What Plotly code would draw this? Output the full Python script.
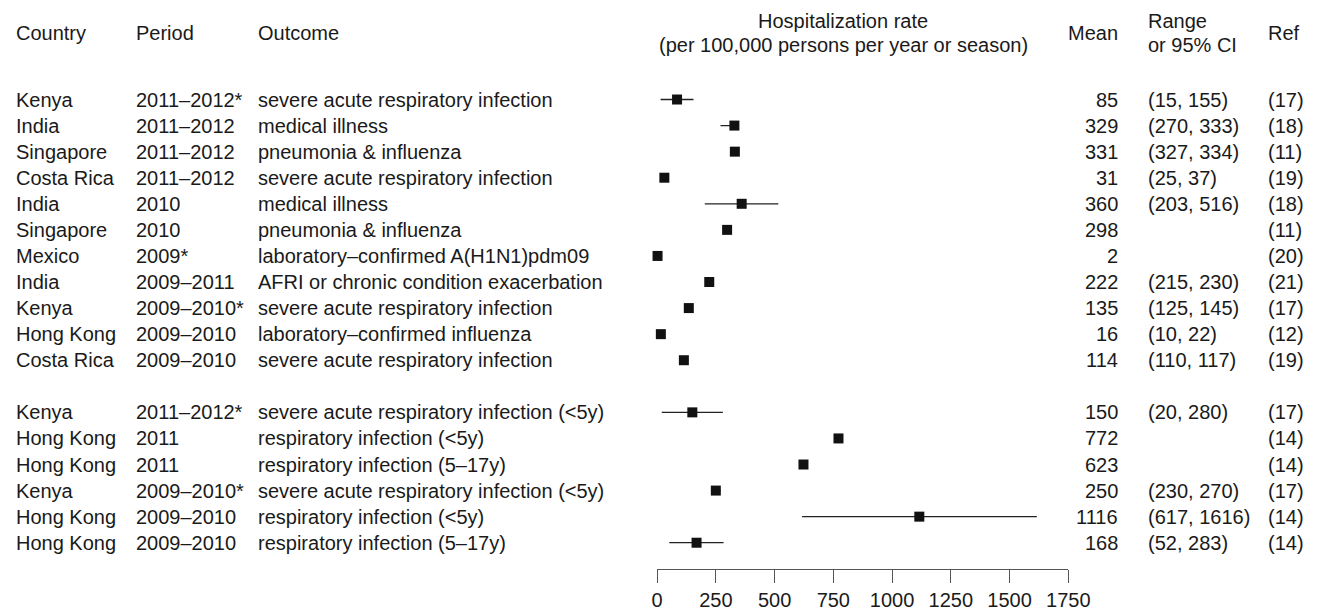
import plotly.graph_objects as go

# ---- data ----
countries = ["Kenya", "India", "Singapore", "Costa Rica", "India", "Singapore", "Mexico",
             "India", "Kenya", "Hong Kong", "Costa Rica",
             "Kenya", "Hong Kong", "Hong Kong", "Kenya", "Hong Kong", "Hong Kong"]
periods = ["2011–2012*", "2011–2012", "2011–2012", "2011–2012", "2010", "2010", "2009*",
           "2009–2011", "2009–2010*", "2009–2010", "2009–2010",
           "2011–2012*", "2011", "2011", "2009–2010*", "2009–2010", "2009–2010"]
outcomes = ["severe acute respiratory infection", "medical illness", "pneumonia & influenza",
            "severe acute respiratory infection", "medical illness", "pneumonia & influenza",
            "laboratory–confirmed A(H1N1)pdm09", "AFRI or chronic condition exacerbation",
            "severe acute respiratory infection", "laboratory–confirmed influenza",
            "severe acute respiratory infection",
            "severe acute respiratory infection (<5y)", "respiratory infection (<5y)",
            "respiratory infection (5–17y)", "severe acute respiratory infection (<5y)",
            "respiratory infection (<5y)", "respiratory infection (5–17y)"]
means = [85, 329, 331, 31, 360, 298, 2, 222, 135, 16, 114, 150, 772, 623, 250, 1116, 168]
lows = [15, 270, 327, 25, 203, None, None, 215, 125, 10, 110, 20, None, None, 230, 617, 52]
highs = [155, 333, 334, 37, 516, None, None, 230, 145, 22, 117, 280, None, None, 270, 1616, 283]
refs = ["(17)", "(18)", "(11)", "(19)", "(18)", "(11)", "(20)", "(21)", "(17)", "(12)", "(19)",
        "(17)", "(14)", "(14)", "(17)", "(14)", "(14)"]
row_slot = [0, 1, 2, 3, 4, 5, 6, 7, 8, 9, 10, 12, 13, 14, 15, 16, 17]
x_ticks = [0, 250, 500, 750, 1000, 1250, 1500, 1750]

W, H = 1338, 611
FONT = "Liberation Sans, Arial, Helvetica, sans-serif"
TXT = "#1a1a1a"
FS = 20

def px_x(p):
    return p / W

def px_y(p):
    return 1 - p / H

err_plus = [(h - m) if h is not None else 0 for m, h in zip(means, highs)]
err_minus = [(m - l) if l is not None else 0 for m, l in zip(means, lows)]

fig = go.Figure()
fig.add_trace(go.Scatter(
    x=means, y=row_slot, mode="markers",
    marker=dict(symbol="square", size=10, color="#111111", line=dict(width=0)),
    error_x=dict(type="data", symmetric=False, array=err_plus, arrayminus=err_minus,
                 width=0, thickness=1.3, color="#222222"),
    cliponaxis=False, showlegend=False, hoverinfo="skip",
))

ann = []
def add(text, x, y, xanchor="left", yref="y"):
    ann.append(dict(text=text, x=x, y=y, xref="paper", yref=yref, xanchor=xanchor,
                    yanchor="middle", showarrow=False, font=dict(size=FS, color=TXT, family=FONT)))

COL_COUNTRY, COL_PERIOD, COL_OUTCOME = 8, 131, 255
COL_MEAN_R, COL_RANGE, COL_REF = 1138, 1164, 1287

for i in range(len(means)):
    s = row_slot[i]
    add(countries[i], px_x(COL_COUNTRY), s)
    add(periods[i], px_x(COL_PERIOD), s)
    add(outcomes[i], px_x(COL_OUTCOME), s)
    add(str(means[i]), px_x(COL_MEAN_R), s, xanchor="right")
    if lows[i] is not None:
        add(f"({lows[i]}, {highs[i]})", px_x(COL_RANGE), s)
    add(refs[i], px_x(COL_REF), s)

# headers
add("Country", px_x(COL_COUNTRY), px_y(33), yref="paper")
add("Period", px_x(COL_PERIOD), px_y(33), yref="paper")
add("Outcome", px_x(COL_OUTCOME), px_y(33), yref="paper")
add("Hospitalization rate", px_x(855), px_y(21), xanchor="center", yref="paper")
add("(per 100,000 persons per year or season)", px_x(855), px_y(45), xanchor="center", yref="paper")
add("Mean", px_x(COL_MEAN_R), px_y(33), xanchor="right", yref="paper")
add("Range", px_x(COL_RANGE), px_y(21), yref="paper")
add("or 95% CI", px_x(COL_RANGE), px_y(45), yref="paper")
add("Ref", px_x(COL_REF), px_y(33), yref="paper")

row0_px, row_step = 100.0, 26.2
fig.update_layout(
    width=W, height=H,
    margin=dict(l=0, r=0, t=0, b=0),
    paper_bgcolor="white", plot_bgcolor="white",
    annotations=ann,
    xaxis=dict(domain=[665 / W, 1085 / W], range=[0, 1750], anchor="free", position=px_y(571.7),
               showgrid=False, zeroline=False, showline=True, linecolor="#555555", linewidth=1.3,
               ticks="outside", ticklen=13, tickwidth=1.3, tickcolor="#555555",
               tickvals=x_ticks, ticktext=[str(t) for t in x_ticks],
               tickfont=dict(size=FS, color=TXT, family=FONT)),
    yaxis=dict(domain=[0, 1], range=[(H - row0_px) / row_step, -row0_px / row_step],
               visible=False, showgrid=False, zeroline=False),
)

fig.write_html("out.html")
